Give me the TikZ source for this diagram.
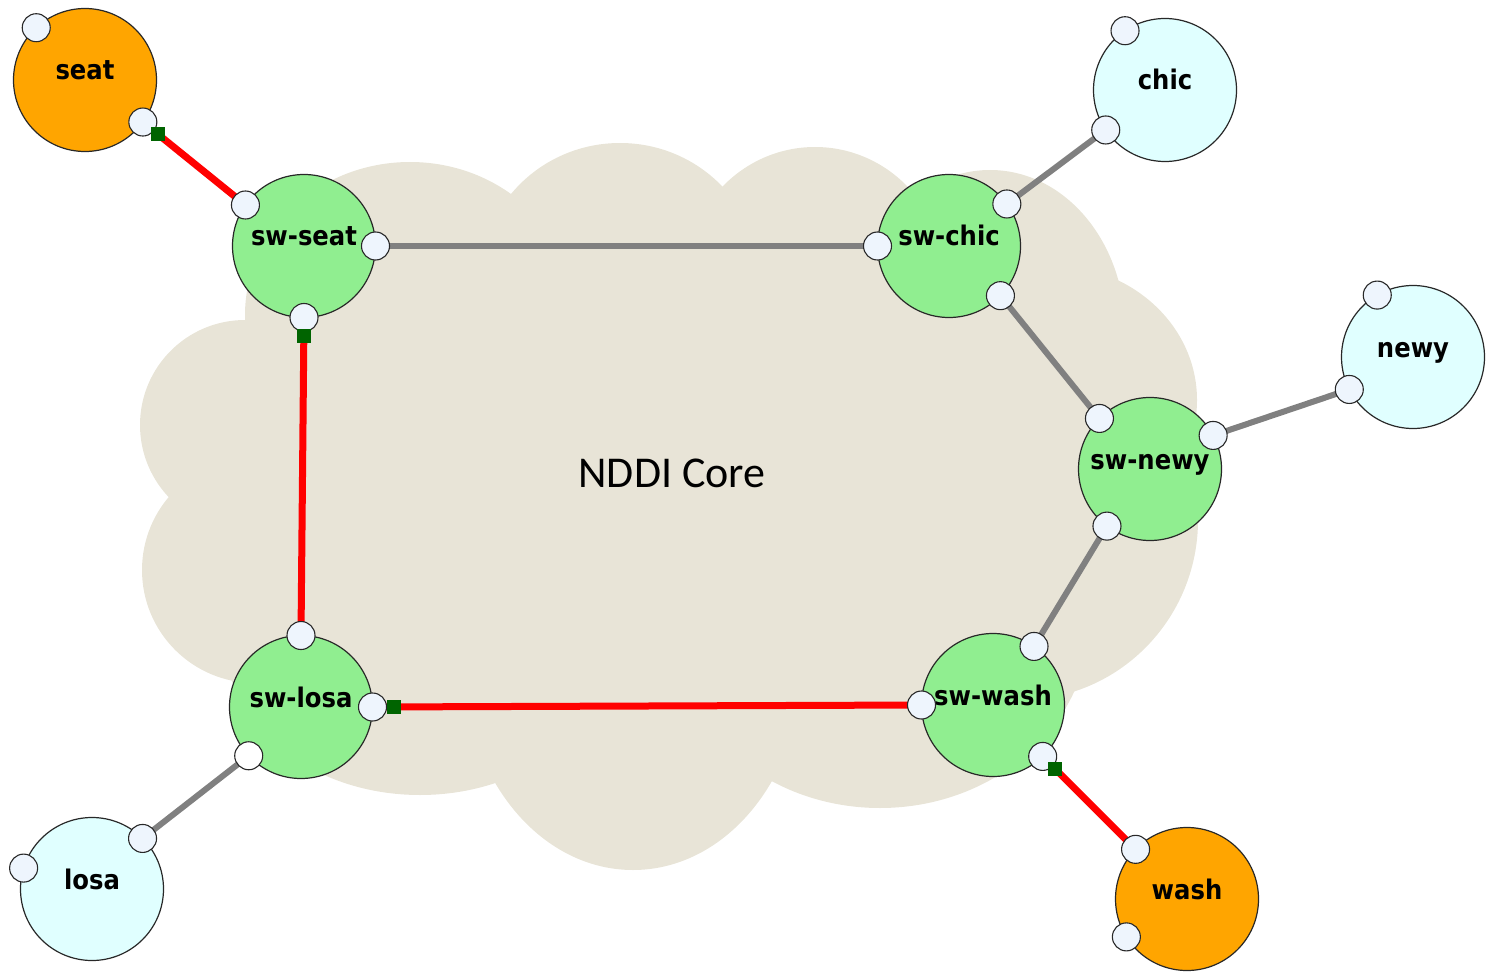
\documentclass[tikz,border=0pt]{standalone}
\usepackage{fontspec}
\setmainfont{DejaVu Sans}
\newfontfamily\lblfont[FakeStretch=0.9]{DejaVu Sans}
\newfontfamily\corefont{Carlito}
\usetikzlibrary{calc}

\definecolor{cloudbg}{RGB}{232,228,215}
\definecolor{swgreen}{RGB}{144,238,144}
\definecolor{hostorange}{RGB}{255,165,0}
\definecolor{hostcyan}{RGB}{224,255,255}
\definecolor{portfill}{RGB}{238,245,253}
\definecolor{tagdark}{RGB}{0,100,0}
\definecolor{linkgray}{RGB}{128,128,128}
\definecolor{rim}{RGB}{40,40,40}

\pgfdeclarelayer{cloudlayer}
\pgfdeclarelayer{linklayer}
\pgfsetlayers{cloudlayer,linklayer,main}

\tikzset{
  lbltext/.style={font=\lblfont\bfseries\fontsize{27}{27}\selectfont,
                  text height=20pt, text depth=6pt, yshift=7pt, inner sep=0pt},
  caption/.style={label={[lbltext]center:#1}},
  bignode/.style={circle, draw=rim, line width=1.2pt, minimum size=143pt,
                  inner sep=0pt, outer sep=0pt},
  switchnode/.style={bignode, fill=swgreen},
  edgehost/.style={bignode, fill=hostorange},
  sitehost/.style={bignode, fill=hostcyan},
  port/.style={circle, draw=rim, line width=1.1pt, fill=portfill,
               minimum size=28pt, inner sep=0pt, outer sep=0pt},
  tag/.style={fill=tagdark, minimum size=14pt, inner sep=0pt, outer sep=0pt},
  circuit/.style={line width=7pt, red},
  trunk/.style={line width=6pt, linkgray},
}

\begin{document}
\begin{tikzpicture}[x=1pt,y=-1pt]
\useasboundingbox (0,0) rectangle (1490,973);

% ---- switches and hosts ----
\node[edgehost,   caption=seat]    (seat)    at (85,80)    {};
\node[switchnode, caption=sw-seat] (swseat)  at (304,246)  {};
\node[switchnode, caption=sw-chic] (swchic)  at (949,246)  {};
\node[sitehost,   caption=chic]    (chic)    at (1165,90)  {};
\node[sitehost,   caption=newy]    (newy)    at (1413,357) {};
\node[switchnode, caption=sw-newy] (swnewy)  at (1150,469) {};
\node[switchnode, caption=sw-wash] (swwash)  at (993,705)  {};
\node[edgehost,   caption=wash]    (wash)    at (1187,899) {};
\node[switchnode, caption=sw-losa] (swlosa)  at (301,707)  {};
\node[sitehost,   caption=losa]    (losa)    at (92,889)   {};

% ---- interface ports on the rims ----
\node[port] (seat-a)   at (seat.133)   {};
\node[port] (seat-b)   at (seat.-36)   {};
\node[port] (swseat-a) at (swseat.145) {};
\node[port] (swseat-b) at (swseat.0)   {};
\node[port] (swseat-c) at (swseat.-90) {};
\node[port] (swchic-a) at (swchic.180) {};
\node[port] (swchic-b) at (swchic.36)  {};
\node[port] (swchic-c) at (swchic.-44) {};
\node[port] (chic-a)   at (chic.124)   {};
\node[port] (chic-b)   at (chic.214)   {};
\node[port] (newy-a)   at (newy.120)   {};
\node[port] (newy-b)   at (newy.207)   {};
\node[port] (swnewy-a) at (swnewy.135) {};
\node[port] (swnewy-b) at (swnewy.28)  {};
\node[port] (swnewy-c) at (swnewy.233) {};
\node[port] (swwash-a) at (swwash.55)  {};
\node[port] (swwash-b) at (swwash.180) {};
\node[port] (swwash-c) at (swwash.-46) {};
\node[port] (wash-a)   at (wash.136)   {};
\node[port] (wash-b)   at (wash.212)   {};
\node[port] (swlosa-a) at (swlosa.90)  {};
\node[port] (swlosa-b) at (swlosa.0)   {};
\node[port, fill=white] (swlosa-c) at (swlosa.223) {};
\node[port] (losa-a)   at (losa.163)   {};
\node[port] (losa-b)   at (losa.45)    {};

% ---- circuit end markers ----
\node[tag] (seat-tag)   at ($(seat-b.center)!19pt!(swseat-a.center)$)   {};
\node[tag] (swseat-tag) at ($(swseat-c.center)!19pt!(swlosa-a.center)$) {};
\node[tag] (swlosa-tag) at ($(swlosa-b.center)!21pt!(swwash-b.center)$) {};
\node[tag] (swwash-tag) at ($(swwash-c.center)!18pt!(wash-a.center)$)   {};

% ---- links ----
\begin{pgfonlayer}{linklayer}
  \draw[circuit] (seat-b.center)   -- (swseat-a.center);
  \draw[circuit] (swseat-c.center) -- (swlosa-a.center);
  \draw[circuit] (swlosa-b.center) -- (swwash-b.center);
  \draw[circuit] (swwash-c.center) -- (wash-a.center);
  \draw[trunk] (swseat-b.center) -- (swchic-a.center);
  \draw[trunk] (swchic-b.center) -- (chic-b.center);
  \draw[trunk] (swchic-c.center) -- (swnewy-a.center);
  \draw[trunk] (swnewy-b.center) -- (newy-b.center);
  \draw[trunk] (swnewy-c.center) -- (swwash-a.center);
  \draw[trunk] (swlosa-c.center) -- (losa-b.center);
\end{pgfonlayer}

% ---- core cloud ----
\begin{pgfonlayer}{cloudlayer}
  \fill[cloudbg]
    (410,315) -- (620,280) -- (815,280) -- (990,330) -- (1050,400) --
    (1020,520) -- (880,620) -- (633,660) -- (420,640) -- (255,570) --
    (245,425) -- cycle;
  \fill[cloudbg] (410,315) ellipse [x radius=165pt, y radius=153pt];
  \fill[cloudbg] (620,280) ellipse [x radius=140pt, y radius=137pt];
  \fill[cloudbg] (815,280) ellipse [x radius=130pt, y radius=133pt];
  \fill[cloudbg] (990,330) ellipse [x radius=135pt, y radius=160pt];
  \fill[cloudbg] (1050,400) ellipse [x radius=147pt, y radius=135pt];
  \fill[cloudbg] (1020,520) ellipse [x radius=178pt, y radius=180pt];
  \fill[cloudbg] (880,620) ellipse [x radius=210pt, y radius=188pt];
  \fill[cloudbg] (633,660) ellipse [x radius=170pt, y radius=210pt];
  \fill[cloudbg] (420,640) ellipse [x radius=195pt, y radius=155pt];
  \fill[cloudbg] (255,570) circle [radius=113pt];
  \fill[cloudbg] (245,425) circle [radius=105pt];
\end{pgfonlayer}
\node[font=\corefont\fontsize{44}{44}\selectfont, inner sep=0pt] (core) at (672,473) {NDDI Core};
\end{tikzpicture}
\end{document}
